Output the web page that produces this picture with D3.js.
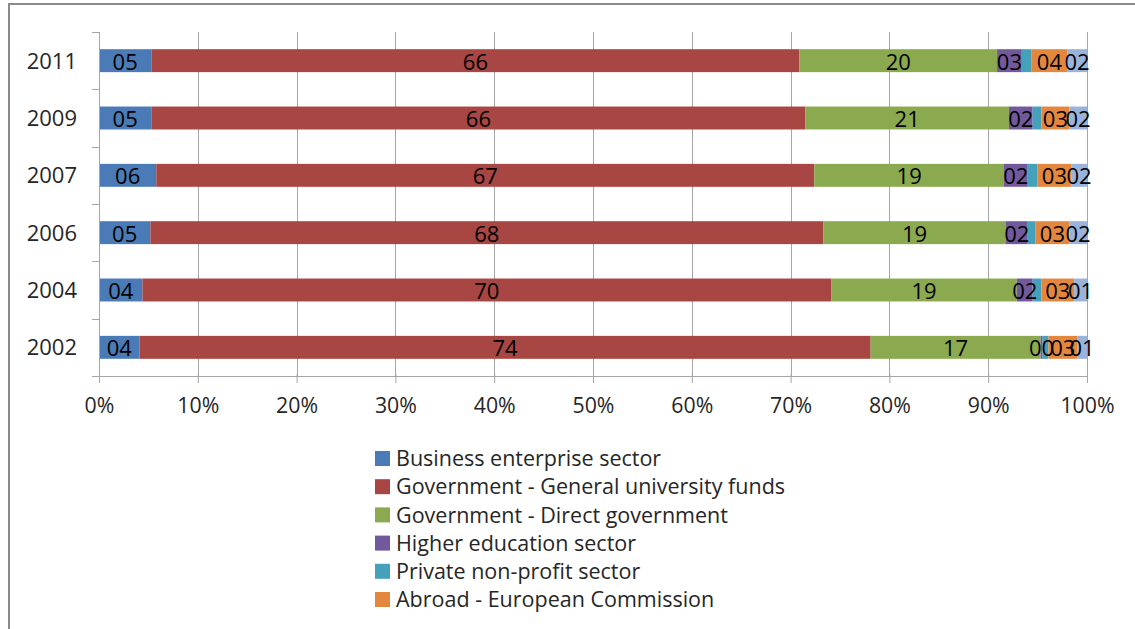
<!DOCTYPE html>
<html>
<head>
<meta charset="utf-8">
<script src="https://cdn.jsdelivr.net/npm/d3@7"></script>
<style>
  html, body { margin: 0; padding: 0; background: #fff; }
  svg { display: block; font-family: "Open Sans", sans-serif; }
</style>
</head>
<body>
<svg id="chart" width="1135" height="629"></svg>
<script>
// ---- data ----
const years = ["2011", "2009", "2007", "2006", "2004", "2002"];
const seriesNames = [
  "Business enterprise sector",
  "Government - General university funds",
  "Government - Direct government",
  "Higher education sector",
  "Private non-profit sector",
  "Abroad - European Commission",
  "Abroad - Other"
];
const business    = [5.3, 5.3, 5.8, 5.2, 4.4, 4.1];
const gufunds     = [65.6, 66.2, 66.6, 68.1, 69.7, 74.0];
const directGov   = [20.0, 20.6, 19.2, 18.5, 18.8, 17.2];
const higherEdu   = [2.5, 2.4, 2.4, 2.2, 1.6, 0.2];
const privateNP   = [1.0, 0.9, 1.0, 0.8, 0.9, 0.6];
const abroadEC    = [3.6, 2.8, 3.4, 3.4, 3.3, 2.9];
const abroadOther = [2.0, 1.8, 1.6, 1.8, 1.3, 1.0];
const xTickValues = [0, 0.1, 0.2, 0.3, 0.4, 0.5, 0.6, 0.7, 0.8, 0.9, 1.0];
const legendCount = 6; // legend in the reference shows the first six entries

// ---- styles ----
const colors = ["#4A7BB6", "#A84643", "#8BAA50", "#71599B", "#45A0B9", "#E3873F", "#99B3DB"];
const showLabel = [true, true, true, true, false, true, true];

const seriesValues = [business, gufunds, directGov, higherEdu, privateNP, abroadEC, abroadOther];
const rows = years.map((y, i) => {
  const r = { year: y };
  seriesNames.forEach((s, j) => { r[s] = seriesValues[j][i]; });
  return r;
});

const svg = d3.select("#chart");
const W = 1135, H = 629;
const plot = { left: 99, right: 1087, top: 32, bottom: 376 };

// outer frame (cut at the right and bottom edges)
svg.append("rect")
  .attr("x", 9).attr("y", 4)
  .attr("width", W + 20).attr("height", H + 20)
  .attr("fill", "none").attr("stroke", "#8a8a8a").attr("stroke-width", 2);

const x = d3.scaleLinear().domain([0, 1]).range([plot.left, plot.right]);
const y = d3.scaleBand().domain(years).range([plot.top, plot.bottom])
  .paddingInner(0.6).paddingOuter(0.3);

// gridlines
svg.append("g").selectAll("line")
  .data(xTickValues.slice(1))
  .join("line")
  .attr("x1", d => Math.round(x(d)) + 0.5).attr("x2", d => Math.round(x(d)) + 0.5)
  .attr("y1", plot.top).attr("y2", plot.bottom)
  .attr("stroke", "#a6a6a6").attr("stroke-width", 1);

// stacked bars
const stack = d3.stack().keys(seriesNames).offset(d3.stackOffsetExpand);
const layers = stack(rows);

const gBars = svg.append("g");
layers.forEach((layer, j) => {
  gBars.append("g").attr("fill", colors[j])
    .selectAll("rect")
    .data(layer)
    .join("rect")
    .attr("x", d => x(d[0]))
    .attr("width", d => Math.max(0, x(d[1]) - x(d[0])))
    .attr("y", d => y(d.data.year))
    .attr("height", y.bandwidth());
});

// x axis
const xAxis = d3.axisBottom(x).tickValues(xTickValues).tickFormat(d3.format(".0%"))
  .tickSize(7).tickPadding(15);
const gx = svg.append("g").attr("transform", `translate(0,${plot.bottom})`).call(xAxis);
gx.select(".domain").attr("stroke", "#a6a6a6").attr("d", `M${plot.left},0.5H${plot.right}`);
gx.selectAll(".tick line").attr("stroke", "#a6a6a6").attr("y1", -2);
gx.selectAll(".tick text").attr("font-size", 21.3).attr("fill", "#262626")
  .attr("font-family", "'Open Sans', sans-serif");

// y axis
const gy = svg.append("g");
gy.append("line")
  .attr("x1", plot.left + 0.5).attr("x2", plot.left + 0.5)
  .attr("y1", plot.top).attr("y2", plot.bottom)
  .attr("stroke", "#a6a6a6");
const boundaries = years.map(yr => y(yr) - y.step() * y.paddingInner() / 2);
boundaries.push(plot.bottom);
gy.selectAll("line.tk").data(boundaries).join("line").attr("class", "tk")
  .attr("x1", plot.left - 7).attr("x2", plot.left)
  .attr("y1", d => Math.round(d) + 0.5).attr("y2", d => Math.round(d) + 0.5)
  .attr("stroke", "#a6a6a6");
gy.selectAll("text").data(years).join("text")
  .attr("x", 77).attr("y", d => y(d) + y.bandwidth() / 2)
  .attr("dy", "0.36em")
  .attr("text-anchor", "end")
  .attr("font-size", 22).attr("fill", "#262626")
  .text(d => d);

// data labels
const fmt = v => d3.format("02d")(Math.round(v));
const gLab = svg.append("g");
layers.forEach((layer, j) => {
  if (!showLabel[j]) return;
  gLab.append("g").selectAll("text")
    .data(layer)
    .join("text")
    .attr("x", d => (x(d[0]) + x(d[1])) / 2)
    .attr("y", d => y(d.data.year) + y.bandwidth() / 2 + 1)
    .attr("dy", "0.36em")
    .attr("text-anchor", "middle")
    .attr("font-size", 22).attr("fill", "#000")
    .text((d, i) => fmt(seriesValues[j][i]));
});

// legend
const gLeg = svg.append("g");
const legItems = seriesNames.slice(0, legendCount);
const leg = gLeg.selectAll("g").data(legItems).join("g")
  .attr("transform", (d, i) => `translate(375, ${451 + i * 28.2})`);
leg.append("rect").attr("width", 15).attr("height", 15)
  .attr("fill", (d, i) => colors[i]);
leg.append("text").attr("x", 21).attr("y", 7.5).attr("dy", "0.36em")
  .attr("font-size", 21.5).attr("fill", "#262626")
  .text(d => d);
</script>
</body>
</html>
